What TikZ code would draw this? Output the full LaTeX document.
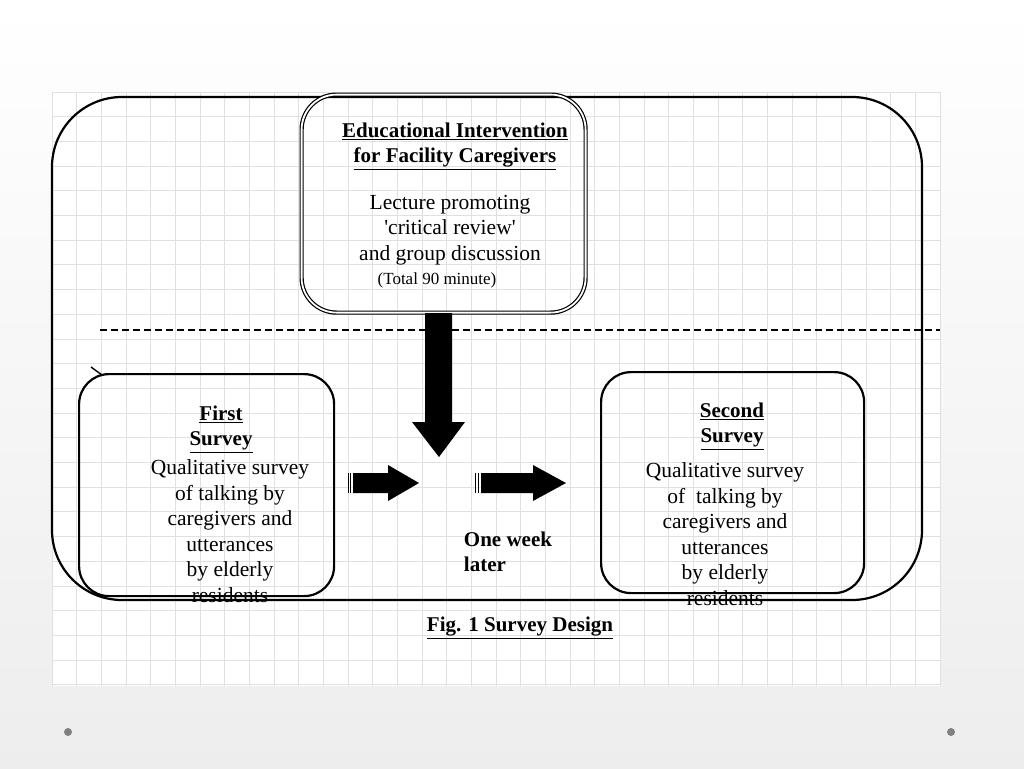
\documentclass[tikz,border=0pt]{standalone}
\usepackage{fontspec}
\setmainfont{Liberation Serif}
\begin{document}
\begin{tikzpicture}[x=1pt,y=-1pt,
  box/.style={draw,line width=2.2pt,rounded corners=30pt},
  txt/.style={align=center,font=\fontsize{21.5}{25.5}\selectfont},
  btxt/.style={align=center,font=\bfseries\fontsize{21}{25.5}\selectfont},
  blk/.style={fill=black}]
\useasboundingbox (0,0) rectangle (1024,768);
\fill[top color=white,bottom color=white!93!black] (0,0) rectangle (1024,768);
\fill[white] (52,92) rectangle (940,686);
\foreach \i in {0,...,36} \draw[blue!10!black!12,line width=0.9pt] (52+24.67*\i,92) -- (52+24.67*\i,686);
\foreach \j in {0,...,24} \draw[blue!10!black!12,line width=0.9pt] (52,92+24.7*\j) -- (940,92+24.7*\j);
\fill[gray] (68,732) circle (4); \fill[gray] (951,732) circle (4);
% big frame
\draw[line width=2.2pt,rounded corners=70pt] (52,600) -- (52,97) -- (922,97) -- (922,600) -- cycle;
% top box
\node[draw,double,double distance=1.8pt,line width=1.2pt,rounded corners=35pt,minimum width=284,minimum height=218,anchor=north west] (top) at (301,94) {};
\node[btxt] (t1) at (455,146) {\underline{Educational Intervention}\\\underline{for Facility Caregivers}};
\node[txt] (t2) at (450,230) {Lecture promoting\\\textquotesingle critical review\textquotesingle\\and group discussion};
\node[font=\fontsize{17}{18}\selectfont] (t3) at (437,280) {(Total 90 minute)};
\draw[line width=1.2pt,dash pattern=on 7pt off 4pt] (100,330) -- (940,330);
% left box
\node[box,minimum width=255,minimum height=222,anchor=north west] (lb) at (78,373) {};
\draw[line width=1.4pt] (91,367) -- (102,375);
\node[btxt] (l1) at (221,429) {\underline{First}\\\underline{Survey}};
\node[txt] (l2) at (230,531) {Qualitative survey\\of talking by\\caregivers and\\utterances\\by elderly\\residents};
% right box
\node[box,minimum width=263,minimum height=221,anchor=north west] (rb) at (600,371) {};
\node[btxt] (r1) at (732,426) {\underline{Second}\\\underline{Survey}};
\node[txt] (r2) at (725,534) {Qualitative survey\\of\ \ talking by\\caregivers and\\utterances\\by elderly\\residents};
\node[btxt,align=left] (ow) at (508,552) {One week\\later};
\node[font=\bfseries\fontsize{21}{22}\selectfont] (cap) at (520,628) {\underline{Fig. 1 Survey Design}};
% arrows
\fill (425,313) -- (452,313) -- (452,422) -- (465,422) -- (439,457) -- (412,422) -- (425,422) -- cycle;
\fill (353,473) -- (388,473) -- (388,465) -- (419,483) -- (388,501) -- (388,493) -- (353,493) -- cycle;
\draw[line width=0.8pt] (348,473) -- (348,493) (350.5,473) -- (350.5,493);
\fill (481,473) -- (533,473) -- (533,465) -- (566,483) -- (533,501) -- (533,493) -- (481,493) -- cycle;
\draw[line width=0.8pt] (475,473) -- (475,493) (478,473) -- (478,493);
\end{tikzpicture}
\end{document}
